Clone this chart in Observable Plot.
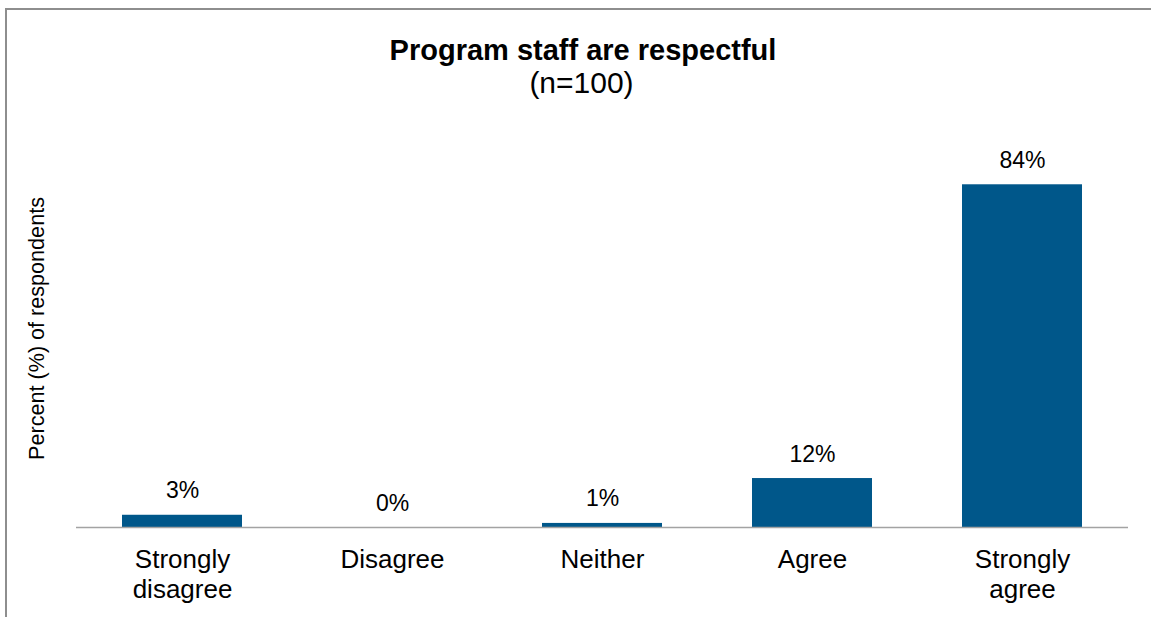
<!DOCTYPE html>
<html>
<head>
<meta charset="utf-8">
<script src="https://cdn.jsdelivr.net/npm/d3@7"></script>
<script src="https://cdn.jsdelivr.net/npm/@observablehq/plot@0.6"></script>
<style>
  html, body { margin: 0; padding: 0; background: #fff; }
  body { width: 1151px; height: 617px; overflow: hidden; position: relative; font-family: "Liberation Sans", Arial, sans-serif; }
  .bl { position: absolute; left: 5px; top: 8px; width: 2px; height: 620px; background: #8e8e8e; }
  .bt { position: absolute; left: 5px; top: 8px; width: 1160px; height: 2px; background: #8e8e8e; }
  #header { position: relative; height: 110px; width: 1151px; }
  .t1 { position: absolute; left: 0; width: 1166px; top: 35.5px; text-align: center; font-size: 29px; line-height: 29px; font-weight: bold; color: #000; white-space: nowrap; }
  .t2 { position: absolute; left: 0; width: 1163px; top: 67.5px; text-align: center; font-size: 30px; line-height: 30px; color: #000; white-space: nowrap; }
  #chart { display: block; }
</style>
</head>
<body>
<div class="bl"></div>
<div class="bt"></div>
<div id="header">
  <div class="t1">Program staff are respectful</div>
  <div class="t2">(n=100)</div>
</div>
<div id="chart"></div>
<script>
const categories = ["Strongly disagree", "Disagree", "Neither", "Agree", "Strongly agree"];
const tickLabels = ["Strongly\ndisagree", "Disagree", "Neither", "Agree", "Strongly\nagree"];
const values = [3, 0, 1, 12, 84];
const valueLabels = ["3%", "0%", "1%", "12%", "84%"];
const yAxisLabel = "Percent (%) of respondents";

const data = categories.map((c, i) => ({cat: c, value: values[i], label: valueLabels[i]}));

const chart = Plot.plot({
  width: 1151,
  height: 507,
  marginLeft: 76,
  marginRight: 23,
  marginTop: 9,
  marginBottom: 90,
  style: {fontFamily: "'Liberation Sans', Arial, sans-serif", color: "#000", background: "transparent", overflow: "visible"},
  x: {domain: categories, paddingInner: 0.43, paddingOuter: 0.215, label: null},
  y: {domain: [0, 100], axis: null},
  marks: [
    Plot.barY(data, {x: "cat", y: "value", fill: "#00578a"}),
    Plot.ruleY([0], {stroke: "#a3a3a3", strokeWidth: 1.5}),
    Plot.text(data, {x: "cat", y: "value", text: "label", dy: -17, lineAnchor: "bottom", fontSize: 23, fill: "#000"}),
    Plot.axisX({tickSize: 0, tickPadding: 20, fontSize: 26, lineHeight: 1.13, label: null,
      tickFormat: d => tickLabels[categories.indexOf(d)], fill: "#000"}),
    Plot.text([yAxisLabel], {frameAnchor: "left", textAnchor: "middle", rotate: -90, dx: -33, dy: 5, lineAnchor: "bottom", fontSize: 21.6, text: d => d, fill: "#000"})
  ]
});
document.getElementById("chart").appendChild(chart);
</script>
</body>
</html>
